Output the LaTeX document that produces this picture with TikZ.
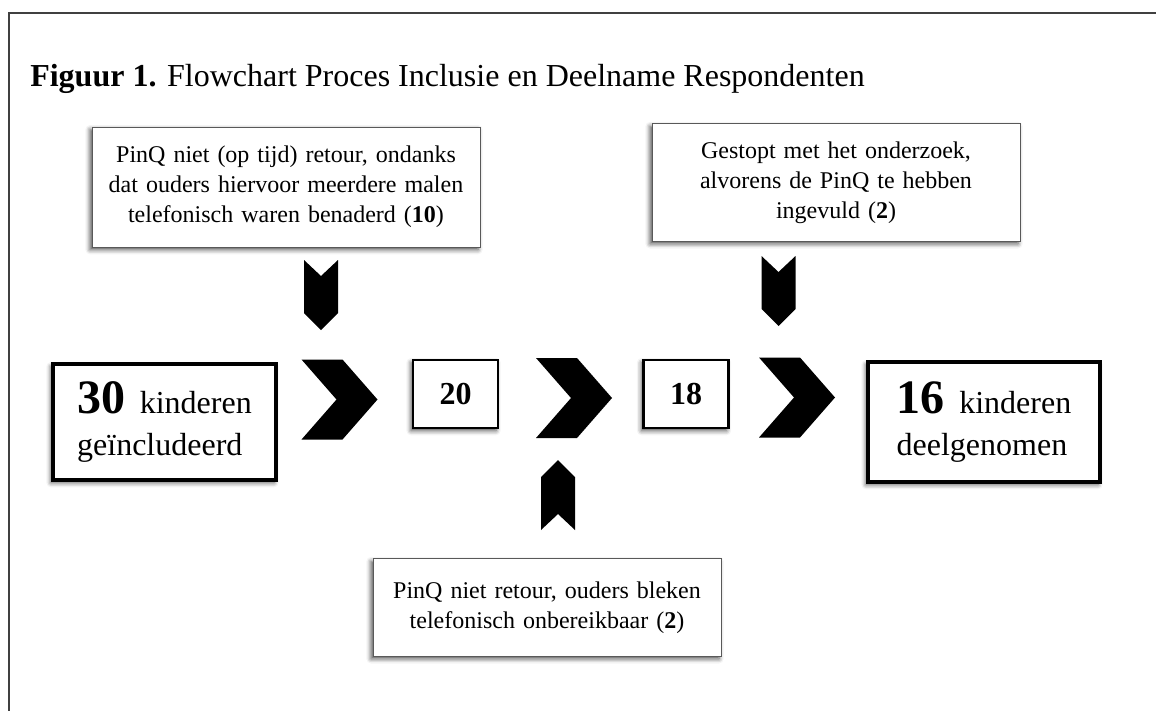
\documentclass[tikz,border=0pt]{standalone}
\usepackage{fontspec}
\setmainfont{Liberation Serif}
\usetikzlibrary{shadows.blur}

\tikzset{
  softshadow/.style={blur shadow={shadow xshift=-1.5pt, shadow yshift=-2pt,
      shadow blur radius=3.5pt, shadow opacity=70}},
  note/.style={draw=black!65, line width=0.6pt, fill=white, softshadow,
    align=center, inner sep=0pt, font=\fontsize{18}{22.5}\selectfont},
  count/.style={draw, line width=2pt, fill=white, softshadow, inner sep=0pt,
    minimum width=63.75pt, minimum height=51pt,
    font=\fontsize{24}{24}\selectfont\bfseries},
  total/.style={draw, fill=white, softshadow, inner sep=0pt, align=left,
    text width=131pt, font=\fontsize{24}{31.5}\selectfont},
  chevron/.pic={\fill (-38,-40) -- (3,-40) -- (38,0) -- (3,40) -- (-38,40) -- (-3,0) -- cycle;},
  dropper/.pic={\fill (-17,0) -- (0,16) -- (17,0) -- (17,53) -- (0,70) -- (-17,53) -- cycle;}
}
\newcommand{\bignum}[1]{{\fontsize{36}{36}\selectfont\bfseries #1}\hspace{11pt}}

\begin{document}
\begin{tikzpicture}[x=0.75pt, y=-0.75pt]
  \useasboundingbox (0,0) rectangle (1156,711);

  % outer frame (open at right and bottom)
  \draw[line width=1.5pt, black!75] (1156,13) -- (9,13) -- (9,711);

  % caption
  \node[anchor=base west, inner sep=0pt, font=\fontsize{24}{28}\selectfont] (title) at (30,86)
    {\textbf{Figuur 1.} Flowchart Proces Inclusie en Deelname Respondenten};

  % drop-out notes
  \node[note, minimum width=291pt, minimum height=90pt, text width=270pt] (lossA) at (286,187)
    {PinQ niet (op tijd) retour, ondanks\\dat ouders hiervoor meerdere malen\\telefonisch waren benaderd (\textbf{10})};
  \node[note, minimum width=276pt, minimum height=88pt, text width=250pt] (lossC) at (836,182.5)
    {Gestopt met het onderzoek,\\alvorens de PinQ te hebben\\ingevuld (\textbf{2})};
  \node[note, minimum width=261pt, minimum height=73pt, text width=240pt] (lossB) at (547,607.5)
    {PinQ niet retour, ouders bleken\\telefonisch onbereikbaar (\textbf{2})};

  % counts
  \node[total, line width=2.5pt, minimum width=167.25pt, minimum height=87pt] (start) at (164.5,422)
    {\bignum{30}kinderen\\geïncludeerd};
  \node[count] (n20) at (455.5,394) {20};
  \node[count] (n18) at (686,394) {18};
  \node[total, line width=3.5pt, minimum width=174pt, minimum height=90pt] (final) at (984,422)
    {\bignum{16}kinderen\\deelgenomen};

  % chevrons between the counts
  \pic at (339.5,399.5) {chevron};
  \pic at (574,398) {chevron};
  \pic at (797,397.5) {chevron};

  % small arrows from the notes
  \pic at (321,260) {dropper};
  \pic at (778.5,256) {dropper};
  \pic[rotate=180] at (558,530) {dropper};
\end{tikzpicture}
\end{document}
